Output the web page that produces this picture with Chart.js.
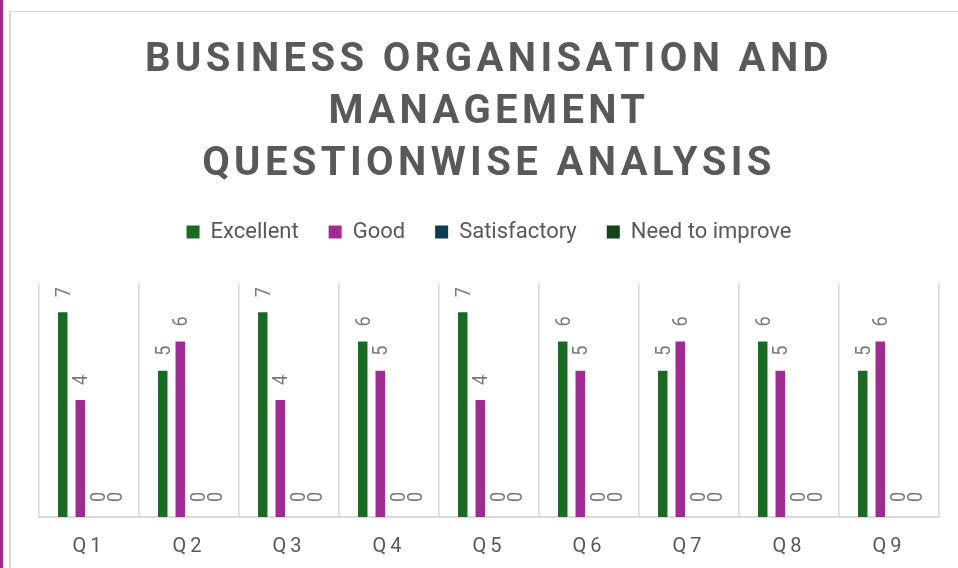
<!DOCTYPE html>
<html><head><meta charset="utf-8">
<script src="https://cdn.jsdelivr.net/npm/chart.js@4"></script>
<style>
html,body{margin:0;padding:0;background:#fff;width:958px;height:568px;overflow:hidden;}
#bar{position:absolute;left:0;top:0;width:3px;height:568px;background:#a02b93;}
#frame{position:absolute;left:9px;top:11px;width:960px;height:570px;border-left:2px solid #d9d9d9;border-top:1px solid #d9d9d9;}
canvas{position:absolute;left:11px;top:13px;}
</style></head><body>
<div id="bar"></div><div id="frame"></div>
<canvas id="c" width="947" height="555"></canvas>
<script>
const categories = ['Q1','Q2','Q3','Q4','Q5','Q6','Q7','Q8','Q9'];
const excellent = [7,5,7,6,7,6,5,6,5];
const good = [4,6,4,5,4,5,6,5,6];
const satisfactory = [0,0,0,0,0,0,0,0,0];
const needToImprove = [0,0,0,0,0,0,0,0,0];
const seriesNames = ['Excellent','Good','Satisfactory','Need to improve'];
const titleLines = ['BUSINESS ORGANISATION AND','MANAGEMENT','QUESTIONWISE ANALYSIS'];

const GREY = '#595959';
const FONT = 'Roboto, "Liberation Sans", sans-serif';

const patchPlugin = {
  id: 'patches',
  beforeLayout(chart) {
    const lg = chart.legend;
    if (lg && !lg._patched) {
      const f = lg.fit;
      lg.fit = function() { f.call(this); this.height += 30; };
      lg._patched = true;
    }
  },
  beforeDraw(chart) {
    const tb = chart.titleBlock;
    if (tb && !tb._patched) {
      const d = tb.draw;
      tb.draw = function() { const ctx = this.ctx; ctx.save(); ctx.letterSpacing = '4.4px'; d.apply(this, arguments); ctx.restore(); };
      tb._patched = true;
    }
    const sx = chart.scales.x;
    if (sx && !sx._patched) {
      const dl = sx.drawLabels;
      sx.drawLabels = function() { const ctx = this.ctx; ctx.save(); ctx.letterSpacing = '4px'; dl.apply(this, arguments); ctx.restore(); };
      sx._patched = true;
    }
  }
};

const labelPlugin = {
  id: 'vlabels',
  afterDatasetsDraw(chart) {
    const ctx = chart.ctx;
    ctx.save();
    ctx.fillStyle = '#7a7a7a';
    ctx.font = '20px ' + FONT;
    ctx.textAlign = 'left';
    ctx.textBaseline = 'alphabetic';
    chart.data.datasets.forEach((ds, i) => {
      const meta = chart.getDatasetMeta(i);
      meta.data.forEach((bar, j) => {
        ctx.save();
        ctx.translate(bar.x, bar.y - 15);
        ctx.rotate(-Math.PI / 2);
        ctx.scale(0.9, 1);
        ctx.fillText(String(ds.data[j]), 0, 7);
        ctx.restore();
      });
    });
    ctx.restore();
  }
};

const colors = ['#196b24', '#a02b93', '#0e3a52', '#12431b'];
const values = [excellent, good, satisfactory, needToImprove];

new Chart(document.getElementById('c'), {
  type: 'bar',
  data: {
    labels: categories,
    datasets: values.map((v, i) => ({
      label: seriesNames[i],
      data: v,
      backgroundColor: colors[i],
      borderWidth: 0,
      categoryPercentage: 0.70,
      barPercentage: 0.54
    }))
  },
  options: {
    responsive: false,
    animation: false,
    layout: { padding: { left: 28, right: 19, top: 0, bottom: -9 } },
    plugins: {
      title: {
        display: true,
        text: titleLines,
        color: GREY,
        font: { family: FONT, size: 40, weight: 'bold', lineHeight: 52/40 },
        padding: { top: 22, bottom: 0 }
      },
      legend: {
        display: true,
        position: 'top',
        labels: {
          color: GREY,
          font: { family: FONT, size: 22 },
          boxWidth: 13,
          boxHeight: 13,
          padding: 30
        }
      },
      tooltip: { enabled: false }
    },
    scales: {
      x: {
        grid: { display: true, color: '#d9d9d9', lineWidth: 1.5, drawTicks: false, offset: true },
        border: { display: true, color: '#d9d9d9', width: 2 },
        ticks: { color: GREY, font: { family: FONT, size: 20 }, padding: 18 }
      },
      y: {
        display: false,
        min: 0,
        max: 8
      }
    }
  },
  plugins: [patchPlugin, labelPlugin]
});
</script>
</body></html>
